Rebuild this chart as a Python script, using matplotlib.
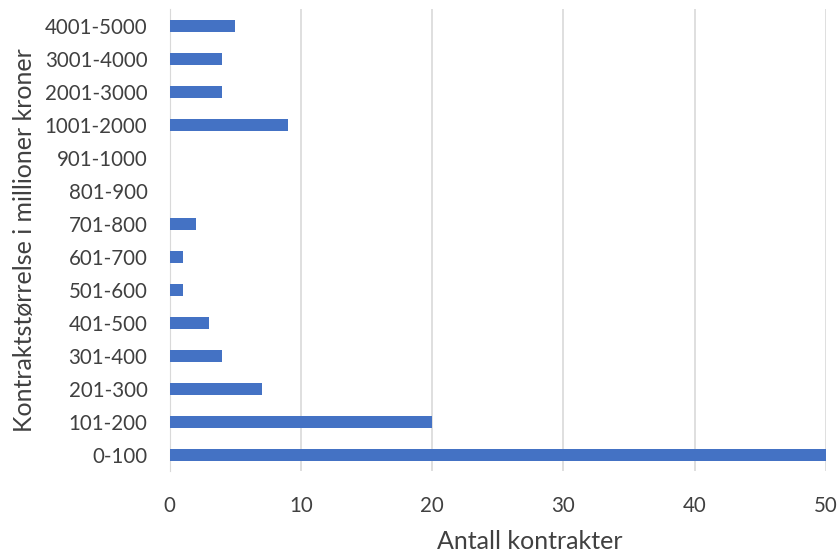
import matplotlib
matplotlib.use("Agg")
import matplotlib.pyplot as plt

categories = ["0-100", "101-200", "201-300", "301-400", "401-500", "501-600",
              "601-700", "701-800", "801-900", "901-1000", "1001-2000",
              "2001-3000", "3001-4000", "4001-5000"]
counts = [50, 20, 7, 4, 3, 1, 1, 2, 0, 0, 9, 4, 4, 5]
x_ticks = [0, 10, 20, 30, 40, 50]

plt.rcParams["font.family"] = ["Lato", "DejaVu Sans"]

fig = plt.figure(figsize=(8.4, 5.52), dpi=100)
ax = fig.add_axes([0.202, 0.146, 0.781, 0.837])

ax.barh(range(len(categories)), counts, height=0.36, color="#4472C4", zorder=3)
ax.set_yticks(range(len(categories)))
ax.set_yticklabels(categories, fontsize=14.8, color="#404040")
ax.set_ylim(-0.5, len(categories) - 0.5)
ax.set_xlim(0, 50)
ax.set_xticks(x_ticks)
ax.set_xticklabels([str(t) for t in x_ticks], fontsize=14.8, color="#404040")
ax.grid(axis="x", color="#D9D9D9", linewidth=1.2, zorder=0)
for s in ["top", "right", "bottom"]:
    ax.spines[s].set_visible(False)
ax.spines["left"].set_color("#D9D9D9")
ax.tick_params(axis="y", length=0, pad=16)
ax.tick_params(axis="x", length=0, pad=18)

ax.set_xlabel("Antall kontrakter", fontsize=18, color="#404040")
ax.xaxis.set_label_coords(0.549, -0.126)
ax.set_ylabel("Kontraktstørrelse i millioner kroner", fontsize=18, color="#404040", labelpad=6)

fig.savefig("out.png", dpi=100)
